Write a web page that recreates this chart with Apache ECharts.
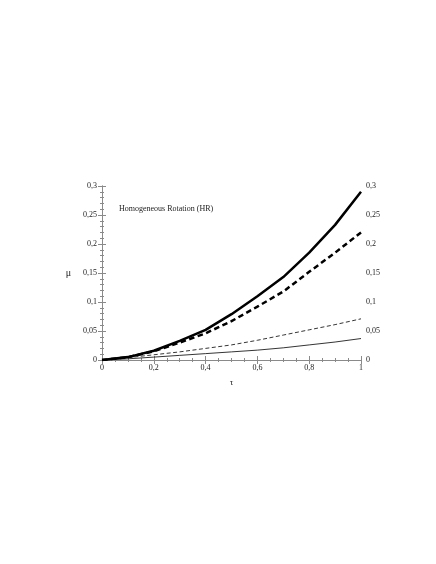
<!DOCTYPE html>
<html>
<head>
<meta charset="utf-8">
<script src="https://cdn.jsdelivr.net/npm/echarts@6/dist/echarts.min.js"></script>
<style>
  html, body { margin: 0; padding: 0; background: #fff; }
  #chart { width: 436px; height: 564px; }
</style>
</head>
<body>
<div id="chart"></div>
<script>
'use strict';
// tau values along the x axis
var tau = [0, 0.1, 0.2, 0.3, 0.4, 0.5, 0.6, 0.7, 0.8, 0.9, 1];
// mu curves
var thickSolid  = [0, 0.005, 0.016, 0.033, 0.052, 0.079, 0.11, 0.143, 0.185, 0.233, 0.29];
var thickDashed = [0, 0.005, 0.015, 0.03, 0.046, 0.067, 0.092, 0.118, 0.152, 0.185, 0.22];
var thinDashed  = [0, 0.004, 0.009, 0.014, 0.02, 0.026, 0.034, 0.043, 0.052, 0.061, 0.071];
var thinSolid   = [0, 0.002, 0.005, 0.008, 0.011, 0.014, 0.017, 0.021, 0.026, 0.031, 0.037];
var chartTitle = 'Homogeneous Rotation (HR)';

var font = '"Liberation Serif", "DejaVu Serif", serif';
var axisGray = '#8a8a8a';

function pairs(ys) {
  return tau.map(function (t, i) { return [t, ys[i]]; });
}
function fmt(v) {
  return String(+v.toFixed(2)).replace('.', ',');
}

function xAxisCfg(pos, showLabel) {
  return {
    type: 'value', position: pos, min: 0, max: 1, interval: 0.2,
    name: showLabel ? 'τ' : '', nameLocation: 'middle', nameGap: 18,
    nameTextStyle: { fontFamily: font, fontSize: 9, color: '#222' },
    axisLine: { show: true, lineStyle: { color: axisGray, width: 1 } },
    axisTick: { show: true, inside: true, length: 4, lineStyle: { color: axisGray } },
    minorTick: { show: true, splitNumber: 4, length: 2, lineStyle: { color: axisGray } },
    axisLabel: { show: showLabel, margin: 4, fontFamily: font, fontSize: 8, color: '#222', formatter: fmt },
    splitLine: { show: false }
  };
}
function yAxisCfg(pos, name) {
  return {
    type: 'value', position: pos, min: 0, max: 0.3, interval: 0.05,
    name: name, nameLocation: 'middle', nameGap: 31, nameRotate: 0,
    nameTextStyle: { fontFamily: font, fontSize: 10, color: '#222' },
    axisLine: { show: true, lineStyle: { color: axisGray, width: 1 } },
    axisTick: { show: true, inside: true, length: 4, lineStyle: { color: axisGray } },
    minorTick: { show: true, splitNumber: 5, length: 2, lineStyle: { color: axisGray } },
    axisLabel: { show: true, margin: 5, fontFamily: font, fontSize: 8, color: '#222', formatter: fmt },
    splitLine: { show: false }
  };
}

function line(ys, width, dash) {
  return {
    type: 'line', data: pairs(ys), symbol: 'none', smooth: false,
    xAxisIndex: 0, yAxisIndex: 0,
    lineStyle: { color: '#000', width: width, type: dash || 'solid' },
    z: 3
  };
}

var chart = echarts.init(document.getElementById('chart'));
chart.setOption({
  animation: false,
  backgroundColor: '#fff',
  title: {
    text: chartTitle, left: 114, top: 200,
    textStyle: { fontFamily: font, fontSize: 8, fontWeight: 'normal', color: '#222' }
  },
  grid: { left: 102, right: 75, top: 186, bottom: 204 },
  xAxis: [xAxisCfg('bottom', true), xAxisCfg('top', false)],
  yAxis: [yAxisCfg('left', 'μ'), yAxisCfg('right', '')],
  series: [
    line(thickSolid, 2.5),
    line(thickDashed, 2.5, [5.5, 3.5]),
    line(thinDashed, 0.8, [4, 2.5]),
    line(thinSolid, 0.8)
  ]
});
</script>
</body>
</html>
